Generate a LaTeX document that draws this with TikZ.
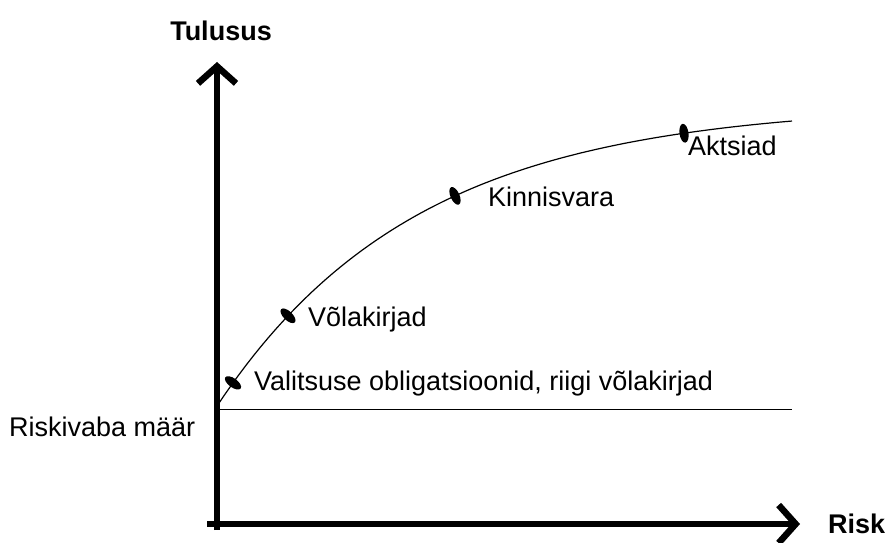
\documentclass[tikz,border=0pt]{standalone}
\usepackage{fontspec}
\setmainfont{Liberation Sans}
\usetikzlibrary{arrows.meta, positioning, calc, shapes.geometric}

\tikzset{
  axis/.style={line width=6.5pt, -{Straight Barb[length=17pt, width=38pt, line width=6.5pt]}},
  lbl/.style={font=\fontsize{27}{32}\selectfont, anchor=west, inner sep=0pt},
  axlbl/.style={font=\fontsize{27}{32}\selectfont\bfseries, inner sep=0pt},
  dot/.style={fill=black, ellipse, minimum width=19pt, minimum height=9pt, inner sep=0pt}
}

\begin{document}
\begin{tikzpicture}[x=1pt, y=-1pt]
  \useasboundingbox (0,0) rectangle (886,543);
  % teljed
  \coordinate (ybot) at (217,530);
  \coordinate (ytop) at (217,62);
  \coordinate (xleft) at (207,524);
  \coordinate (xright) at (800,524);
  \draw[axis] (ybot) -- (ytop);
  \draw[axis] (xleft) -- (xright);
  \node[axlbl] (tulusus) at (221,31) {Tulusus};
  \node[axlbl, anchor=west] (risk) at (828,524) {Risk};
  % riskivaba määr
  \coordinate (rf0) at (217,409);
  \coordinate (rf1) at (792,409);
  \draw[line width=1pt] (rf0) -- (rf1);
  \node[lbl] (riskivaba) at (9,427) {Riskivaba määr};
  % kõver
  \draw[line width=1.2pt] plot[domain=217:792, samples=80]
    (\x,{406-302*(1-exp(-(\x-217)/200))});
  \foreach \px/\ang/\nm in {233/-36/valits, 288/-44/volak, 455/-66/kinnis, 684/-82/akts}
    \node[dot, rotate=\ang] (m\nm) at (\px,{406-302*(1-exp(-(\px-217)/200))}) {};
  \node[lbl] (valits) at (254,384) {Valitsuse obligatsioonid, riigi võlakirjad};
  \node[lbl] (volak) at (308,320) {Võlakirjad};
  \node[lbl] (kinnis) at (488,197) {Kinnisvara};
  \node[lbl] (akts) at (688,146) {Aktsiad};
\end{tikzpicture}
\end{document}
